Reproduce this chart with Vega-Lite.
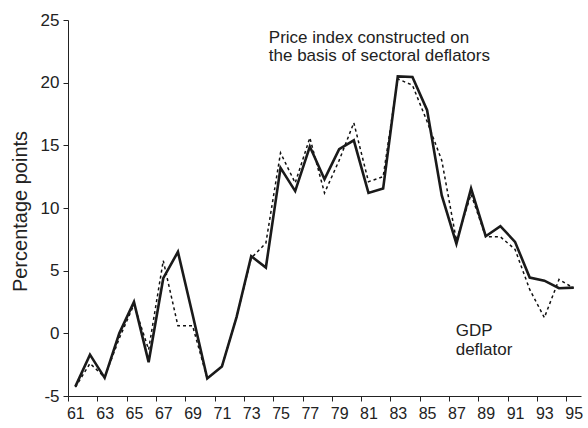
{
  "$schema": "https://vega.github.io/schema/vega-lite/v6.json",
  "width": 513,
  "height": 376,
  "autosize": {"type": "none"},
  "padding": {"left": 68, "top": 20, "right": 7, "bottom": 32},
  "background": "white",
  "config": {
    "font": "Liberation Sans",
    "view": {"stroke": null},
    "axis": {
      "grid": false,
      "domainColor": "#222222",
      "tickColor": "#222222",
      "labelColor": "#222222",
      "titleColor": "#222222",
      "labelFont": "Liberation Sans",
      "titleFont": "Liberation Sans",
      "labelFontSize": 16,
      "titleFontSize": 20,
      "titleFontWeight": "normal",
      "tickSize": 5,
      "labelPadding": 4
    }
  },
  "datasets": {
    "series": [
      {"year": 61, "series": "Price index", "value": -4.25},
      {"year": 62, "series": "Price index", "value": -1.7},
      {"year": 63, "series": "Price index", "value": -3.55},
      {"year": 64, "series": "Price index", "value": 0.0},
      {"year": 65, "series": "Price index", "value": 2.5},
      {"year": 66, "series": "Price index", "value": -2.3},
      {"year": 67, "series": "Price index", "value": 4.4},
      {"year": 68, "series": "Price index", "value": 6.5},
      {"year": 69, "series": "Price index", "value": 1.5},
      {"year": 70, "series": "Price index", "value": -3.6},
      {"year": 71, "series": "Price index", "value": -2.65},
      {"year": 72, "series": "Price index", "value": 1.3},
      {"year": 73, "series": "Price index", "value": 6.15},
      {"year": 74, "series": "Price index", "value": 5.25},
      {"year": 75, "series": "Price index", "value": 13.2},
      {"year": 76, "series": "Price index", "value": 11.35},
      {"year": 77, "series": "Price index", "value": 14.9},
      {"year": 78, "series": "Price index", "value": 12.3},
      {"year": 79, "series": "Price index", "value": 14.7},
      {"year": 80, "series": "Price index", "value": 15.4},
      {"year": 81, "series": "Price index", "value": 11.2},
      {"year": 82, "series": "Price index", "value": 11.55},
      {"year": 83, "series": "Price index", "value": 20.5},
      {"year": 84, "series": "Price index", "value": 20.45},
      {"year": 85, "series": "Price index", "value": 17.8},
      {"year": 86, "series": "Price index", "value": 11.0},
      {"year": 87, "series": "Price index", "value": 7.15},
      {"year": 88, "series": "Price index", "value": 11.55},
      {"year": 89, "series": "Price index", "value": 7.75},
      {"year": 90, "series": "Price index", "value": 8.55},
      {"year": 91, "series": "Price index", "value": 7.3},
      {"year": 92, "series": "Price index", "value": 4.45},
      {"year": 93, "series": "Price index", "value": 4.2},
      {"year": 94, "series": "Price index", "value": 3.6},
      {"year": 95, "series": "Price index", "value": 3.65},
      {"year": 61, "series": "GDP deflator", "value": -4.3},
      {"year": 62, "series": "GDP deflator", "value": -2.4},
      {"year": 63, "series": "GDP deflator", "value": -3.5},
      {"year": 64, "series": "GDP deflator", "value": -0.4},
      {"year": 65, "series": "GDP deflator", "value": 2.3},
      {"year": 66, "series": "GDP deflator", "value": -1.3},
      {"year": 67, "series": "GDP deflator", "value": 5.8},
      {"year": 68, "series": "GDP deflator", "value": 0.6},
      {"year": 69, "series": "GDP deflator", "value": 0.6},
      {"year": 70, "series": "GDP deflator", "value": -3.6},
      {"year": 71, "series": "GDP deflator", "value": -2.65},
      {"year": 72, "series": "GDP deflator", "value": 1.3},
      {"year": 73, "series": "GDP deflator", "value": 6.0},
      {"year": 74, "series": "GDP deflator", "value": 7.2},
      {"year": 75, "series": "GDP deflator", "value": 14.4},
      {"year": 76, "series": "GDP deflator", "value": 12.0},
      {"year": 77, "series": "GDP deflator", "value": 15.6},
      {"year": 78, "series": "GDP deflator", "value": 11.2},
      {"year": 79, "series": "GDP deflator", "value": 13.8},
      {"year": 80, "series": "GDP deflator", "value": 16.8},
      {"year": 81, "series": "GDP deflator", "value": 12.1},
      {"year": 82, "series": "GDP deflator", "value": 12.5},
      {"year": 83, "series": "GDP deflator", "value": 20.3},
      {"year": 84, "series": "GDP deflator", "value": 19.8},
      {"year": 85, "series": "GDP deflator", "value": 16.9},
      {"year": 86, "series": "GDP deflator", "value": 13.8},
      {"year": 87, "series": "GDP deflator", "value": 7.4},
      {"year": 88, "series": "GDP deflator", "value": 11.1},
      {"year": 89, "series": "GDP deflator", "value": 7.7},
      {"year": 90, "series": "GDP deflator", "value": 7.7},
      {"year": 91, "series": "GDP deflator", "value": 6.7},
      {"year": 92, "series": "GDP deflator", "value": 3.5},
      {"year": 93, "series": "GDP deflator", "value": 1.25},
      {"year": 94, "series": "GDP deflator", "value": 4.3},
      {"year": 95, "series": "GDP deflator", "value": 3.6}
    ],
    "notes": [
      {"year": 74.2, "value": 23.2, "label": "Price index constructed on\nthe basis of sectoral deflators"},
      {"year": 86.95, "value": -0.25, "label": "GDP\ndeflator"}
    ]
  },
  "encoding": {
    "x": {
      "field": "year",
      "type": "quantitative",
      "scale": {"domain": [60.5, 95.5], "nice": false, "zero": false},
      "axis": {
        "title": null,
        "values": [61, 63, 65, 67, 69, 71, 73, 75, 77, 79, 81, 83, 85, 87, 89, 91, 93, 95],
        "format": "d",
        "tickOffset": -7.33,
        "labelOffset": 7.33,
        "labelFlush": false,
        "labelOverlap": false
      }
    },
    "y": {
      "field": "value",
      "type": "quantitative",
      "scale": {"domain": [-5, 25], "nice": false, "zero": false},
      "axis": {
        "title": "Percentage points",
        "values": [-5, 0, 5, 10, 15, 20, 25],
        "labelExpr": "datum.value < 0 ? '-' + abs(datum.value) : '' + datum.value",
        "labelFontSize": 17,
        "titlePadding": 10,
        "titleY": 191
      }
    }
  },
  "layer": [
    {
      "data": {"name": "series"},
      "transform": [{"filter": "datum.series === 'GDP deflator'"}],
      "mark": {"type": "line", "color": "#111111", "strokeWidth": 1.5, "strokeDash": [3, 3]}
    },
    {
      "data": {"name": "series"},
      "transform": [{"filter": "datum.series === 'Price index'"}],
      "mark": {"type": "line", "color": "#1a1a1a", "strokeWidth": 2.6, "strokeJoin": "miter"}
    },
    {
      "data": {"name": "notes"},
      "mark": {"type": "text", "align": "left", "baseline": "alphabetic", "fontSize": 17, "lineHeight": 18.4, "color": "#222222", "font": "Liberation Sans", "lineBreak": "\n"},
      "encoding": {"text": {"field": "label"}}
    }
  ]
}
